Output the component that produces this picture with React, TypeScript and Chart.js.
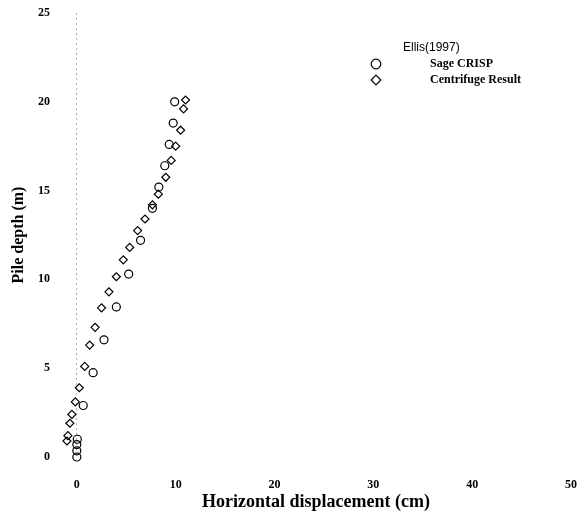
import React, { useEffect, useRef } from "react";
import { Chart, registerables } from "chart.js";

Chart.register(...registerables);

// Sage CRISP (circles)
const crispDisp = [9.9, 9.75, 9.35, 8.9, 8.3, 7.65, 6.45, 5.25, 4.0, 2.75, 1.65, 0.65, 0.05, 0.0, 0.0, 0.0];
const crispDepth = [20.0, 18.8, 17.6, 16.4, 15.2, 14.0, 12.2, 10.3, 8.45, 6.6, 4.75, 2.9, 1.0, 0.7, 0.35, 0.0];

// Centrifuge Result (diamonds)
const centDisp = [11.0, 10.8, 10.5, 10.0, 9.55, 9.0, 8.25, 7.65, 6.9, 6.15, 5.35, 4.7, 4.0, 3.25, 2.5, 1.85, 1.3, 0.8, 0.25, -0.15, -0.5, -0.7, -0.9, -1.0];
const centDepth = [20.1, 19.6, 18.4, 17.5, 16.7, 15.75, 14.8, 14.2, 13.4, 12.75, 11.8, 11.1, 10.15, 9.3, 8.4, 7.3, 6.3, 5.1, 3.9, 3.1, 2.4, 1.9, 1.2, 0.9];

const xTicks = [0, 10, 20, 30, 40, 50];
const yTicks = [0, 5, 10, 15, 20, 25];

const legendTitle = "Ellis(1997)";
const seriesNames = ["Sage CRISP", "Centrifuge Result"];

const serif = "'Liberation Serif', 'Times New Roman', serif";
const sans = "'Liberation Sans', Arial, sans-serif";

const legendPlugin = {
  id: "customLegend",
  afterDraw(chart: any) {
    const ctx = chart.ctx;
    ctx.save();
    ctx.fillStyle = "#000";
    ctx.textBaseline = "middle";
    ctx.textAlign = "left";
    ctx.font = `12px ${sans}`;
    ctx.fillText(legendTitle, 403, 48);
    ctx.font = `bold 12px ${serif}`;
    const rows = [64, 80];
    chart.data.datasets.forEach((ds: any, i: number) => {
      const y = rows[i];
      ctx.strokeStyle = "#000";
      ctx.lineWidth = 1.2;
      ctx.beginPath();
      if (ds.pointStyle === "circle") {
        ctx.arc(376, y, 4.8, 0, Math.PI * 2);
      } else {
        ctx.moveTo(376, y - 4.8);
        ctx.lineTo(380.8, y);
        ctx.lineTo(376, y + 4.8);
        ctx.lineTo(371.2, y);
        ctx.closePath();
      }
      ctx.stroke();
      ctx.fillText(ds.label, 430, y);
    });
    ctx.restore();
  },
};

export default function App() {
  const ref = useRef<HTMLCanvasElement | null>(null);
  useEffect(() => {
    if (!ref.current) return;
    const chart = new Chart(ref.current, {
      type: "scatter",
      data: {
        datasets: [
          {
            label: seriesNames[0],
            data: crispDisp.map((x, i) => ({ x, y: crispDepth[i] })),
            pointStyle: "circle",
            pointRadius: 4,
            borderColor: "#000",
            backgroundColor: "rgba(0,0,0,0)",
            borderWidth: 1.2,
            clip: false as any,
          },
          {
            label: seriesNames[1],
            data: centDisp.map((x, i) => ({ x, y: centDepth[i] })),
            pointStyle: "rectRot",
            pointRadius: 4,
            borderColor: "#000",
            backgroundColor: "rgba(0,0,0,0)",
            borderWidth: 1.2,
            clip: false as any,
          },
        ],
      },
      options: {
        animation: false,
        responsive: false,
        layout: { padding: { top: 13, right: 12, left: 0, bottom: 0 } },
        plugins: { legend: { display: false }, tooltip: { enabled: false } },
        scales: {
          x: {
            type: "linear",
            min: -1.6,
            max: 50,
            afterFit(s: any) {
              s.height = 56;
              s.paddingLeft = 0;
              s.paddingRight = 0;
            },
            afterBuildTicks(s: any) {
              s.ticks = xTicks.map((v) => ({ value: v }));
            },
            grid: {
              display: true,
              drawTicks: false,
              color: (c: any) => (c.tick && c.tick.value === 0 ? "#b0b0b0" : "rgba(0,0,0,0)"),
            },
            border: { display: false, dash: [2, 3] },
            ticks: {
              padding: 21,
              color: "#000",
              font: { family: serif, size: 12, weight: "bold" },
              maxRotation: 0,
            },
            title: {
              display: true,
              text: "Horizontal displacement (cm)",
              color: "#000",
              font: { family: serif, size: 18, weight: "bold" },
              padding: { top: 0, bottom: 0 },
            },
          },
          y: {
            type: "linear",
            min: 0,
            max: 25,
            afterFit(s: any) {
              s.width = 61;
              s.paddingTop = 0;
              s.paddingBottom = 0;
            },
            afterBuildTicks(s: any) {
              s.ticks = yTicks.map((v) => ({ value: v }));
            },
            grid: { display: false, drawTicks: false },
            border: { display: false },
            ticks: {
              padding: 11,
              color: "#000",
              font: { family: serif, size: 12, weight: "bold" },
            },
            title: {
              display: true,
              text: "Pile depth (m)",
              color: "#000",
              font: { family: serif, size: 16, weight: "bold" },
              padding: { top: 9.5, bottom: 0 },
            },
          },
        },
      },
      plugins: [legendPlugin],
    });
    return () => chart.destroy();
  }, []);
  return (
    <canvas
      ref={ref}
      width={583}
      height={513}
      style={{ position: "absolute", left: 0, top: 0, display: "block", background: "#fff" }}
    />
  );
}
